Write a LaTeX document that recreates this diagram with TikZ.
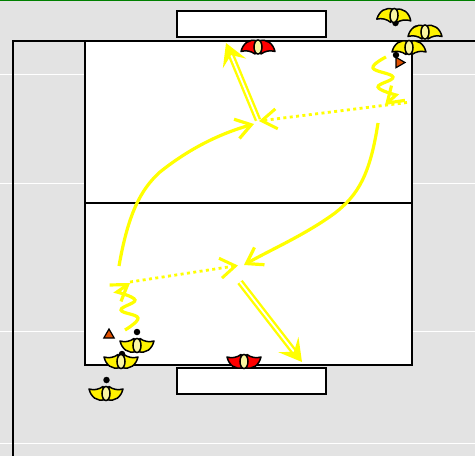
\documentclass[tikz,border=0pt]{standalone}
\usetikzlibrary{arrows.meta,positioning,shapes.geometric}
\definecolor{pitchgray}{RGB}{227,227,227}
\definecolor{paleyellow}{RGB}{250,245,160}
\definecolor{runyellow}{RGB}{255,255,0}
\definecolor{markerorange}{RGB}{224,80,0}
\tikzset{
  goalblk/.style={draw,rectangle,fill=white,line width=2pt,minimum width=149pt,minimum height=26pt,inner sep=0pt},
  ballpt/.style={circle,fill=black,minimum size=6.5pt,inner sep=0pt},
  marker/.style={regular polygon,regular polygon sides=3,draw,fill=markerorange,line width=1.2pt,minimum size=12pt,inner sep=0pt},
  runarr/.style={draw=runyellow,line width=3.2pt,-{Straight Barb[length=15pt,width=20pt,line width=3.2pt]}},
  passarr/.style={draw=runyellow,line width=2.8pt,dash pattern=on 3pt off 3.4pt,-{Straight Barb[length=15pt,width=20pt,line width=3pt,sep=0pt]}},
  shotarr/.style={draw=runyellow,line width=2.4pt,double=white,double distance=1.8pt,-{Stealth[length=22pt,width=25pt,inset=9pt,fill=runyellow]}},
  pics/player/.style={code={
    \foreach \side in {1,-1}
      \draw[fill=#1,line width=1.5pt,line join=round,xscale=\side]
        (-1,-6.5) .. controls (-9,-9) and (-15,-4) .. (-17,4) .. controls (-12,2.5) and (-7,3.5) .. (-3,6.5) -- cycle;
    \draw[fill=paleyellow,line width=1.5pt] (0,-0.5) ellipse (4 and 7);
  }}
}
\begin{document}
\begin{tikzpicture}[x=1pt,y=-1pt]
  \useasboundingbox (0,0) rectangle (475,456);
  \fill[pitchgray] (0,0) rectangle (475,456);
  \draw[green!50!black,line width=1.2pt] (0,0.4) -- (475,0.4);
  \foreach \y in {74,183,331,443}
    \draw[white,line width=1pt] (0,\y) -- (475,\y);
  % outer pitch and court
  \draw[line width=2pt] (13,456) -- (13,40.5) -- (475,40.5);
  \draw[fill=white,line width=2pt] (85,40.5) rectangle (412,365);
  \draw[line width=2pt] (85,203) -- (412,203);
  \node[goalblk] (goaltop) at (251,23.5) {};
  \node[goalblk] (goalbot) at (251,381) {};

  % reference points of the runs
  \coordinate (wigtopA) at (386,57);
  \coordinate (wigtopB) at (385,105);
  \coordinate (turntop) at (259,121);
  \coordinate (shottopA) at (258,120);
  \coordinate (shottop) at (226,43);
  \coordinate (runtopA) at (378,123);
  \coordinate (turnbot) at (244,265);
  \coordinate (wigbotA) at (125,330);
  \coordinate (wigbotB) at (130,283);
  \coordinate (turnbotB) at (238,265.5);
  \coordinate (shotbotA) at (240,282);
  \coordinate (shotbot) at (302,362);
  \coordinate (runbotA) at (119,266);
  \coordinate (turntopB) at (254,124);
  \coordinate (passtopA) at (407,102.5);
  \coordinate (passbotA) at (130,282);

  \draw[runarr] (runbotA) .. controls (128,215) and (140,190) .. (160,172) .. controls (185,152) and (215,135) .. (turntopB);
  \draw[runarr] (runtopA) .. controls (370,175) and (358,195) .. (335,213) .. controls (305,235) and (270,250) .. (turnbot);
  \draw[shotarr] (shottopA) -- (shottop);
  \draw[shotarr] (shotbotA) -- (shotbot);
  \draw[passarr] (passtopA) -- (turntop);
  \draw[passarr] (passbotA) -- (turnbotB);
  \draw[runarr] plot[smooth,tension=0.7] coordinates {(wigtopA) (373,68) (393,77) (378,87) (396,95)} -- (wigtopB);
  \draw[runarr] plot[smooth,tension=0.7] coordinates {(wigbotA) (138,318) (121,310) (135,300) (117,292)} -- (wigbotB);

  % players
  \pic at (258,47.5) {player=red};
  \pic[rotate=180] at (244,361) {player=red};
  \node[ballpt] (balla) at (395.5,23) {};
  \pic[rotate=-3] at (394,16) {player=yellow};
  \node[ballpt] (ballb) at (416,28.5) {};
  \pic at (425,32.5) {player=yellow};
  \node[ballpt] (ballc) at (396,55) {};
  \pic at (409,48) {player=yellow};
  \node[marker,shape border rotate=-90] (conetop) at (399,62.5) {};
  \node[ballpt] (balld) at (137,332) {};
  \pic[rotate=180] at (137,345) {player=yellow};
  \node[ballpt] (balle) at (122,354) {};
  \pic[rotate=180] at (121,361) {player=yellow};
  \node[ballpt] (ballf) at (106.5,380) {};
  \pic[rotate=180] at (106,393) {player=yellow};
  \node[marker] (conebot) at (109,335) {};
\end{tikzpicture}
\end{document}
